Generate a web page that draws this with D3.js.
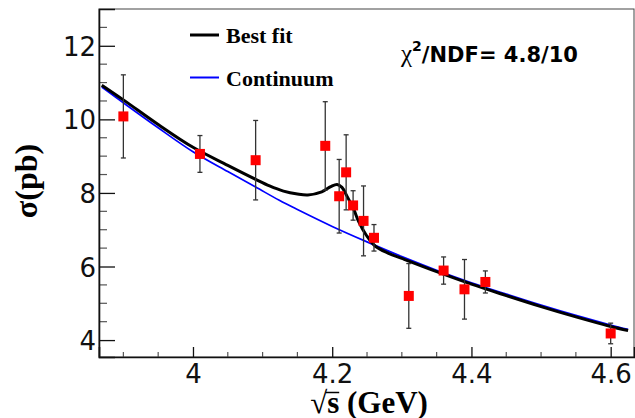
<!DOCTYPE html>
<html>
<head>
<meta charset="utf-8">
<script src="https://cdn.jsdelivr.net/npm/d3@7"></script>
<style>
  body { margin: 0; background: #fff; }
  svg { display: block; }
</style>
</head>
<body>
<div id="chart"></div>
<script>
// measured points: sqrt(s) in GeV, cross section in pb
var energy   = [3.90, 4.01, 4.09, 4.19, 4.21, 4.22, 4.23, 4.245, 4.26, 4.31, 4.36, 4.39, 4.42, 4.60];
var sigma    = [10.08, 9.06, 8.89, 9.28, 7.91, 8.56, 7.66, 7.24, 6.78, 5.20, 5.89, 5.38, 5.58, 4.18];
var sigmaErr = [1.13, 0.50, 1.08, 1.20, 1.00, 1.02, 0.40, 0.95, 0.36, 0.88, 0.37, 0.81, 0.30, 0.28];

// best fit curve
var fitE     = [3.869, 3.90, 3.95, 4.00, 4.05, 4.09, 4.11, 4.13, 4.15, 4.165, 4.185, 4.198, 4.207, 4.214, 4.221, 4.231, 4.238, 4.249, 4.262, 4.281, 4.30, 4.35, 4.40, 4.45, 4.50, 4.55, 4.60, 4.625];
var fitSigma = [10.93, 10.53, 9.86, 9.24, 8.75, 8.37, 8.19, 8.05, 7.97, 7.945, 8.03, 8.17, 8.23, 8.15, 7.92, 7.55, 7.22, 6.85, 6.55, 6.36, 6.22, 5.86, 5.52, 5.21, 4.91, 4.63, 4.37, 4.26];

// continuum curve
var contE     = [3.869, 3.90, 3.95, 4.00, 4.05, 4.09, 4.124, 4.15, 4.20, 4.25, 4.30, 4.35, 4.40, 4.45, 4.50, 4.55, 4.60, 4.625];
var contSigma = [10.88, 10.45, 9.77, 9.12, 8.58, 8.16, 7.80, 7.55, 7.09, 6.67, 6.27, 5.90, 5.56, 5.25, 4.95, 4.67, 4.41, 4.29];

var xTicks = [4, 4.2, 4.4, 4.6];
var yTicks = [4, 6, 8, 10, 12];

var W = 635, H = 418;
var margin = {top: 9, right: 1, bottom: 61, left: 99},
    width = W - margin.left - margin.right,
    height = H - margin.top - margin.bottom;

var svg = d3.select("#chart")
  .append("svg")
    .attr("width", W)
    .attr("height", H);

var g = svg.append("g")
    .attr("transform", "translate(" + margin.left + "," + margin.top + ")");

var x = d3.scaleLinear().domain([3.865, 4.6335]).range([0, width]);
var y = d3.scaleLinear().domain([3.54, 13]).range([height, 0]);

// frame
g.append("rect")
  .attr("width", width).attr("height", height)
  .attr("fill", "none").attr("stroke", "#444").attr("stroke-width", 1);

// minor ticks
var xMinor = d3.range(3.9, 4.63, 0.05).filter(function(v) { return xTicks.indexOf(+v.toFixed(2)) < 0; });
var yMinor = d3.range(4.5, 13, 0.5).filter(function(v) { return yTicks.indexOf(v) < 0; });

g.append("g")
  .selectAll("line").data(xMinor).enter().append("line")
    .attr("x1", function(d) { return x(d); }).attr("x2", function(d) { return x(d); })
    .attr("y1", height).attr("y2", height - 5)
    .attr("stroke", "#555").attr("stroke-width", 1.2);

g.append("g")
  .selectAll("line").data(yMinor).enter().append("line")
    .attr("x1", 0).attr("x2", 8)
    .attr("y1", function(d) { return y(d); }).attr("y2", function(d) { return y(d); })
    .attr("stroke", "#555").attr("stroke-width", 1.2);

// axes
var xAxis = g.append("g")
  .attr("transform", "translate(0," + height + ")")
  .call(d3.axisBottom(x).tickValues(xTicks).tickSize(-10).tickPadding(8).tickFormat(d3.format("")));

var yAxis = g.append("g")
  .call(d3.axisLeft(y).tickValues(yTicks).tickSize(-16).tickPadding(3).tickFormat(d3.format("d")));

[xAxis, yAxis].forEach(function(a) {
  a.select(".domain").attr("stroke", "#111").attr("stroke-width", 1.6);
  a.selectAll(".tick line").attr("stroke", "#111").attr("stroke-width", 1.3);
  a.selectAll(".tick text")
    .attr("fill", "#111")
    .style("font-family", "'DejaVu Sans', sans-serif")
    .style("font-size", "26px");
});
xAxis.selectAll(".tick text").attr("dy", "0.71em");
yAxis.selectAll(".tick text").attr("dy", "0.37em");

// curves
var line = d3.line()
  .curve(d3.curveCatmullRom.alpha(0.5))
  .x(function(d) { return x(d[0]); })
  .y(function(d) { return y(d[1]); });

g.append("path")
  .datum(d3.zip(contE, contSigma))
  .attr("fill", "none")
  .attr("stroke", "#0000ff")
  .attr("stroke-width", 1.7)
  .attr("d", line);

g.append("path")
  .datum(d3.zip(fitE, fitSigma))
  .attr("fill", "none")
  .attr("stroke", "#000")
  .attr("stroke-width", 3)
  .attr("d", line);

// data points with error bars
var pts = energy.map(function(e, i) { return {e: e, s: sigma[i], err: sigmaErr[i]}; });

var bars = g.append("g").selectAll("g").data(pts).enter().append("g")
  .attr("stroke", "#333").attr("stroke-width", 1.3);
bars.append("line")
  .attr("x1", function(d) { return x(d.e); }).attr("x2", function(d) { return x(d.e); })
  .attr("y1", function(d) { return y(d.s - d.err); }).attr("y2", function(d) { return y(d.s + d.err); });
bars.append("line")
  .attr("x1", function(d) { return x(d.e) - 2.5; }).attr("x2", function(d) { return x(d.e) + 2.5; })
  .attr("y1", function(d) { return y(d.s + d.err); }).attr("y2", function(d) { return y(d.s + d.err); });
bars.append("line")
  .attr("x1", function(d) { return x(d.e) - 2.5; }).attr("x2", function(d) { return x(d.e) + 2.5; })
  .attr("y1", function(d) { return y(d.s - d.err); }).attr("y2", function(d) { return y(d.s - d.err); });

g.append("g").selectAll("rect").data(pts).enter().append("rect")
  .attr("x", function(d) { return x(d.e) - 5; })
  .attr("y", function(d) { return y(d.s) - 5; })
  .attr("width", 10).attr("height", 10)
  .attr("fill", "#ff0000");

// legend
var legend = [
  {name: "Best fit", color: "#000", w: 3},
  {name: "Continuum", color: "#0000ff", w: 2}
];
var lg = svg.append("g").selectAll("g").data(legend).enter().append("g")
  .attr("transform", function(d, i) { return "translate(190," + (35 + i * 42.5) + ")"; });
lg.append("line")
  .attr("x1", 0).attr("x2", 29)
  .attr("stroke", function(d) { return d.color; })
  .attr("stroke-width", function(d) { return d.w; });
lg.append("text")
  .attr("x", 36).attr("y", 8)
  .style("font-family", "'Liberation Serif', 'Times New Roman', serif")
  .style("font-weight", "bold")
  .style("font-size", "22px")
  .text(function(d) { return d.name; });

// chi2 label
var chi = svg.append("text")
  .attr("x", 401).attr("y", 61.5)
  .style("font-family", "'DejaVu Sans', sans-serif")
  .style("font-weight", "bold")
  .style("font-size", "21px");
chi.append("tspan")
  .style("font-family", "'Liberation Serif', serif")
  .style("font-weight", "normal")
  .style("font-size", "25px")
  .text("χ");
chi.append("tspan")
  .attr("dy", -11)
  .style("font-size", "14px")
  .text("2");
chi.append("tspan")
  .attr("dy", 11)
  .text("/NDF= 4.8/10");

// axis titles
var xt = svg.append("text")
  .attr("x", 369).attr("y", 413)
  .attr("text-anchor", "middle")
  .style("font-family", "'Liberation Serif', 'Times New Roman', serif")
  .style("font-weight", "bold")
  .style("font-size", "31px");
xt.append("tspan").style("font-weight", "normal").text("√");
xt.append("tspan").text("s");
xt.append("tspan").text(" (GeV)");

// bar of the square root over the s
var rootBox = xt.node().getExtentOfChar(0),
    sBox = xt.node().getExtentOfChar(1);
svg.append("line")
  .attr("x1", rootBox.x + rootBox.width - 1.5).attr("x2", sBox.x + sBox.width)
  .attr("y1", 392.5).attr("y2", 392.5)
  .attr("stroke", "#000").attr("stroke-width", 1.5);

svg.append("text")
  .attr("transform", "translate(37,181) rotate(-90)")
  .attr("text-anchor", "middle")
  .style("font-family", "'Liberation Serif', 'Times New Roman', serif")
  .style("font-weight", "bold")
  .style("font-size", "32px")
  .text("σ(pb)");
</script>
</body>
</html>
